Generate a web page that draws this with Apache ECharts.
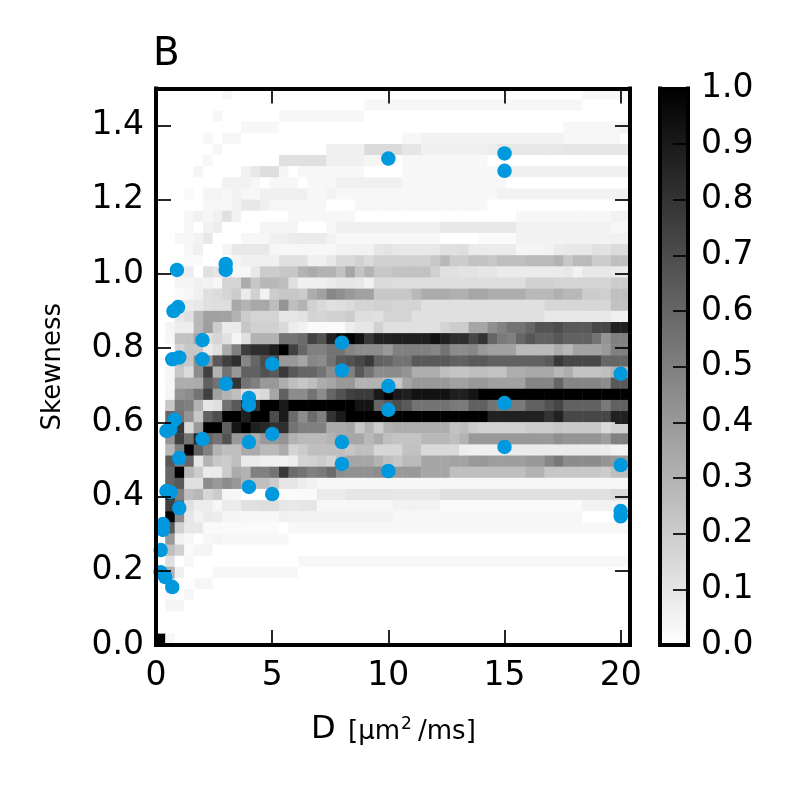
<!DOCTYPE html>
<html><head><meta charset="utf-8">
<style>html,body{margin:0;padding:0;background:#fff}#c{width:790px;height:790px}</style>
<script src="https://cdn.jsdelivr.net/npm/echarts@6/dist/echarts.min.js"></script>
</head><body><div id="c"></div>
<script>
const xTicksInterval = 5;
const dDomain = [0, 20.4];
const skewDomain = [0, 1.5];
// grey level (percent of full scale) per cell, rows listed from top (skewness 1.5) to bottom (0)
const rows = [
[0,0,0,0,0,0,0,3,0,0,0,0,0,0,0,0,0,0,0,0,0,0,0,0,0,0,0,0,0,0,0,0,0,0,0,0,0,0,0,0,0,0,0,0,0,3,3,3,3,2],
[0,0,0,0,0,0,0,0,0,0,0,0,0,0,0,0,0,0,0,0,0,0,3,3,3,3,3,3,3,3,3,3,3,3,3,3,3,3,3,3,3,3,3,3,3,0,0,0,0,0],
[0,0,0,0,0,0,3,0,0,0,0,0,0,3,3,3,3,3,3,3,3,3,0,0,0,0,0,0,0,0,0,0,0,0,0,0,0,0,0,0,0,0,0,0,0,0,0,0,0,0],
[0,0,0,0,0,0,0,0,0,3,3,3,3,0,0,0,0,0,0,0,0,0,0,0,0,0,0,0,0,0,0,0,0,0,0,0,0,0,0,0,0,0,0,3,3,3,3,3,3,5],
[0,0,0,0,0,3,0,3,3,0,0,0,0,0,0,0,0,0,0,0,0,0,0,0,0,0,3,3,5,5,5,5,5,5,5,5,5,5,5,5,5,5,5,3,3,3,3,3,3,0],
[0,0,0,0,0,0,3,0,0,0,0,0,0,0,0,0,0,0,6,6,6,6,14,14,14,14,10,10,6,6,6,6,6,6,6,7,9,9,9,9,9,9,9,10,10,10,10,10,10,10],
[0,0,0,0,0,3,0,0,0,0,0,0,0,12,12,12,12,12,6,6,6,6,4,4,0,0,3,3,3,3,3,3,3,3,3,0,0,0,0,0,0,0,0,0,0,0,0,0,0,0],
[0,0,0,0,4,0,0,0,0,5,9,13,13,4,0,3,3,3,3,3,3,3,0,0,0,0,3,3,3,3,3,3,3,3,3,3,3,6,6,6,6,6,6,6,6,6,6,6,6,6],
[0,0,0,0,0,0,0,5,5,5,3,0,3,3,3,0,3,3,3,6,6,6,6,6,6,6,3,3,3,3,3,3,3,3,3,3,3,0,0,0,0,0,0,0,0,0,0,0,0,0],
[0,0,0,2,0,4,4,3,5,3,3,6,6,6,6,6,3,3,5,3,3,3,3,3,3,3,3,3,3,3,3,3,3,3,3,3,5,5,5,5,5,5,5,5,5,5,5,5,5,5],
[0,0,0,0,0,3,3,3,5,9,9,6,3,3,3,3,3,3,0,0,0,3,3,3,3,3,3,3,3,3,3,3,3,3,3,0,0,0,0,0,0,0,0,0,0,0,0,0,0,0],
[0,0,0,3,5,3,6,12,5,0,0,0,0,0,3,3,3,3,3,3,3,0,0,0,0,0,0,0,0,0,0,0,0,0,0,0,0,0,3,3,3,3,3,3,3,3,3,3,5,5],
[0,0,0,3,0,5,7,0,0,0,0,4,4,4,4,0,0,0,3,6,6,6,6,6,6,6,6,6,6,6,9,9,9,9,9,9,9,9,5,5,5,5,5,5,5,5,5,5,3,3],
[0,0,3,3,5,9,0,0,0,3,3,3,6,6,8,8,8,8,5,3,3,3,3,3,3,3,3,3,3,3,0,0,0,0,2,2,2,2,5,5,5,5,5,5,5,5,5,5,6,6],
[0,0,0,3,6,0,0,4,9,9,9,9,4,3,3,3,3,3,3,5,5,5,5,10,11,9,9,9,9,9,12,12,13,8,8,8,8,8,4,4,4,5,8,9,9,9,12,11,14,14],
[0,0,0,2,2,0,0,0,4,6,6,6,6,12,12,12,6,6,9,15,15,18,14,18,18,18,18,18,18,22,28,20,20,24,24,22,25,25,25,27,27,27,30,22,27,27,20,20,25,25],
[0,0,7,7,0,12,10,8,3,3,9,20,20,22,22,30,33,30,30,24,35,23,30,22,22,24,24,24,24,18,12,12,11,11,10,10,8,8,8,8,8,8,8,9,5,9,9,9,8,8],
[0,0,4,4,6,5,3,17,17,33,22,28,28,26,12,6,6,6,8,10,10,9,5,14,14,13,13,13,13,13,13,13,13,13,13,13,13,13,13,18,18,18,17,17,17,17,17,17,20,20],
[0,0,2,3,6,12,14,16,20,8,18,5,20,22,22,20,32,37,47,44,40,37,37,22,22,22,22,28,33,33,33,31,31,35,35,32,32,32,32,28,28,28,31,28,28,20,20,19,25,25],
[0,0,8,8,9,12,13,13,34,30,34,34,26,42,25,30,18,15,12,13,14,17,17,18,18,17,17,17,12,12,12,12,12,12,12,12,12,12,12,12,12,16,16,16,16,16,16,16,24,24],
[0,0,9,12,28,37,37,37,30,20,17,17,17,10,10,11,17,16,18,18,20,13,13,12,17,17,17,12,12,12,12,12,12,12,12,12,12,12,12,12,12,9,9,9,9,9,9,9,6,6],
[0,4,7,7,28,38,20,8,8,22,18,18,18,15,7,5,2,2,2,2,7,10,10,18,12,12,12,12,12,12,17,20,20,35,35,44,49,55,55,60,67,67,70,65,65,65,72,72,87,87],
[0,3,24,24,35,12,16,12,4,12,30,30,30,55,55,58,74,68,87,95,100,93,78,87,87,88,88,88,88,93,87,82,82,72,80,60,52,50,60,66,62,62,66,62,62,62,55,42,50,50],
[0,0,17,22,22,8,12,33,50,76,82,82,88,100,75,60,50,50,55,55,48,45,45,45,40,50,50,50,50,47,55,45,45,47,40,37,37,37,27,27,27,27,32,28,36,36,36,40,50,50],
[0,0,25,22,45,40,65,75,82,47,60,70,70,40,40,35,47,45,55,65,68,72,78,62,60,55,55,65,65,65,65,62,62,65,65,62,62,62,62,62,62,65,78,72,72,72,72,60,60,60],
[0,3,22,14,45,75,30,55,40,62,62,68,65,78,65,60,60,55,45,50,50,65,55,45,45,45,42,32,32,32,25,23,23,25,25,24,24,32,32,34,34,34,28,32,24,24,24,25,30,30],
[0,3,32,32,33,62,55,60,80,55,50,40,40,32,25,22,25,32,35,40,40,30,30,30,25,22,35,40,40,40,40,37,37,40,40,37,37,37,37,48,48,48,60,48,48,48,48,45,65,65],
[0,4,42,45,55,75,37,30,25,12,12,15,35,62,45,45,55,45,60,68,75,77,77,90,100,90,88,93,93,93,93,88,88,92,100,100,100,100,100,100,100,100,100,100,100,100,100,100,100,100],
[0,22,52,50,30,10,12,55,65,85,80,100,100,90,100,100,100,100,100,100,100,92,92,60,65,70,65,55,55,55,55,52,52,62,62,55,52,52,52,62,62,68,73,62,62,62,62,52,62,62],
[0,60,55,42,22,62,70,100,100,88,100,100,70,90,58,45,58,50,80,90,100,100,100,100,100,100,100,100,100,100,100,100,100,100,100,87,87,87,87,87,87,80,87,72,72,72,72,72,87,87],
[0,60,78,15,40,100,100,63,92,100,88,85,80,82,55,50,50,50,33,33,35,22,30,20,30,32,32,32,32,32,32,24,26,20,18,18,18,18,18,20,20,20,22,21,21,21,21,14,18,18],
[0,42,75,55,85,60,55,68,40,40,32,40,40,42,30,27,27,27,30,35,35,35,28,33,25,23,23,23,28,28,28,25,30,40,40,40,40,40,40,40,40,40,44,42,42,42,42,38,50,50],
[0,28,50,100,62,50,30,25,25,33,33,27,27,33,17,20,25,25,25,25,22,25,25,16,16,16,24,24,15,15,15,15,7,6,6,6,6,8,8,8,8,8,8,8,8,8,8,8,5,5],
[0,65,50,60,10,30,22,20,25,8,8,6,6,5,7,17,18,20,17,25,35,35,35,30,25,22,27,27,35,35,35,36,36,40,40,38,38,38,38,40,40,47,53,45,45,45,45,42,40,40],
[0,60,100,28,20,8,8,20,33,30,50,50,55,78,58,55,50,52,58,45,43,43,43,45,45,40,40,40,35,35,35,25,25,25,25,25,25,25,25,30,30,22,22,22,22,22,22,20,25,25],
[0,60,65,12,12,45,40,45,40,30,25,25,20,10,10,7,5,3,3,3,3,3,3,3,3,3,3,3,3,3,3,3,3,3,3,3,3,3,3,3,3,3,3,3,3,3,3,3,3,3],
[0,85,50,25,28,16,20,4,3,0,0,0,0,2,2,2,2,8,8,8,10,10,10,10,10,9,9,9,9,9,12,12,12,12,12,12,12,12,12,12,12,12,12,12,12,12,12,12,14,14],
[0,75,60,12,7,7,3,8,8,12,12,13,13,10,9,10,10,3,3,3,3,3,3,3,3,5,5,5,5,5,2,2,2,2,2,2,2,2,2,2,2,2,2,2,2,5,5,5,5,5],
[0,100,45,10,5,8,7,4,4,3,3,3,3,6,5,5,5,5,5,5,5,5,5,5,5,3,3,3,3,3,3,3,3,3,3,3,3,3,3,3,3,3,3,3,3,0,0,0,0,0],
[0,65,18,9,9,2,2,2,2,2,2,2,2,0,3,3,3,3,3,3,3,3,3,3,3,3,3,3,3,3,3,3,3,3,3,3,3,3,3,3,3,3,3,3,3,3,3,3,3,3],
[0,40,5,3,0,3,4,3,3,3,3,3,3,3,0,0,0,0,0,0,0,0,0,0,0,0,0,0,0,0,0,0,0,0,0,0,0,0,0,0,0,0,0,0,0,0,0,0,0,0],
[0,25,18,2,4,4,0,0,0,0,0,0,0,0,0,0,0,0,0,0,0,0,0,0,0,0,0,0,0,0,0,0,0,0,0,0,0,0,0,0,0,0,0,0,0,0,0,0,0,0],
[0,12,0,3,0,0,0,0,0,0,0,0,0,0,0,3,3,3,3,3,3,3,3,3,3,3,3,3,3,3,3,3,3,3,3,3,3,3,3,3,3,3,3,3,3,3,3,3,3,3],
[0,30,6,0,0,0,3,3,3,3,3,3,3,3,3,0,0,0,0,0,0,0,0,0,0,0,0,0,0,0,0,0,0,0,0,0,0,0,0,0,0,0,0,0,0,0,0,0,0,0],
[0,20,0,0,3,3,0,0,0,0,0,0,0,0,0,0,0,0,0,0,0,0,0,0,0,0,0,0,0,0,0,0,0,0,0,0,0,0,0,0,0,0,0,0,0,0,0,0,0,0],
[0,2,0,3,0,0,0,0,0,0,0,0,0,0,0,0,0,0,0,0,0,0,0,0,0,0,0,0,0,0,0,0,0,0,0,0,0,0,0,0,0,0,0,0,0,0,0,0,0,0],
[0,4,4,0,0,0,0,0,0,0,0,0,0,0,0,0,0,0,0,0,0,0,0,0,0,0,0,0,0,0,0,0,0,0,0,0,0,0,0,0,0,0,0,0,0,0,0,0,0,0],
[0,0,0,0,0,0,0,0,0,0,0,0,0,0,0,0,0,0,0,0,0,0,0,0,0,0,0,0,0,0,0,0,0,0,0,0,0,0,0,0,0,0,0,0,0,0,0,0,0,0],
[0,0,0,0,0,0,0,0,0,0,0,0,0,0,0,0,0,0,0,0,0,0,0,0,0,0,0,0,0,0,0,0,0,0,0,0,0,0,0,0,0,0,0,0,0,0,0,0,0,0],
[100,3,0,0,0,0,0,0,0,0,0,0,0,0,0,0,0,0,0,0,0,0,0,0,0,0,0,0,0,0,0,0,0,0,0,0,0,0,0,0,0,0,0,0,0,0,0,0,0,0]
];
const dotsD = [10,15,15,0.9,3,3,0.95,0.75,2,2,0.7,1,8,8,5,3,20,10,4,4,15,10,0.8,0.45,0.62,2,4,5,8,15,1,8,20,10,4,5,0.45,0.62,1,20,20,0.3,0.3,0.2,0.2,0.4,0.7];
const dotsS = [1.311,1.325,1.278,1.011,1.027,1.011,0.911,0.9,0.822,0.77,0.77,0.775,0.815,0.74,0.758,0.704,0.731,0.698,0.666,0.647,0.652,0.634,0.607,0.577,0.582,0.555,0.547,0.569,0.547,0.534,0.504,0.488,0.485,0.469,0.426,0.407,0.415,0.412,0.369,0.361,0.347,0.326,0.31,0.256,0.196,0.183,0.156];
const cbarMax = [1];
const title = 'B';
const yName = 'Skewness';

const grey = rows.length;
const cells = [];
rows.forEach((r, k) => r.forEach((v, c) => cells.push([c, grey - 1 - k, v / 100])));
const catX = rows[0].map((_, i) => i);
const catY = rows.map((_, i) => i);

const chart = echarts.init(document.getElementById('c'), null, {renderer: 'canvas'});
const F = 'DejaVu Sans';
const box = {left: 156, top: 88.5, width: 474, height: 556.5};
const spine = {show: true, onZero: false, lineStyle: {color: '#000', width: 4, cap: 'square'}};
const tick = {show: true, inside: true, length: 15, lineStyle: {color: '#000', width: 1.7}};
const label = {color: '#000', fontFamily: F, fontSize: 33};
const off = {show: false};
const val = (extra) => Object.assign({type: 'value', z: 5, splitLine: off, axisLine: spine, axisTick: tick}, extra);

chart.setOption({
  animation: false,
  backgroundColor: '#fff',
  title: {text: title, left: 153, top: 35, padding: 0, textStyle: {fontFamily: F, fontSize: 39, fontWeight: 'normal', color: '#000'}},
  grid: [
    Object.assign({}, box),
    Object.assign({}, box),
    {left: 660, top: 88.5, width: 28, height: 556.5}
  ],
  visualMap: {show: false, min: 0, max: 1, seriesIndex: 0, dimension: 2, inRange: {color: ['#ffffff', '#000000']}},
  xAxis: [
    {gridIndex: 0, type: 'category', data: catX, show: false},
    val({gridIndex: 1, position: 'bottom', min: dDomain[0], max: dDomain[1], interval: xTicksInterval,
      axisLabel: Object.assign({margin: 15, showMaxLabel: false}, label)}),
    val({gridIndex: 1, position: 'top', min: dDomain[0], max: dDomain[1], interval: xTicksInterval, axisLabel: off}),
    {gridIndex: 2, type: 'category', data: ['c'], position: 'bottom', z: 5, axisLine: spine, axisTick: off, axisLabel: off},
    {gridIndex: 2, type: 'category', data: ['c'], position: 'top', z: 5, axisLine: spine, axisTick: off, axisLabel: off}
  ],
  yAxis: [
    {gridIndex: 0, type: 'category', data: catY, show: false},
    val({gridIndex: 1, position: 'left', min: skewDomain[0], max: skewDomain[1], interval: 0.2,
      name: yName, nameLocation: 'middle', nameGap: 90, nameRotate: 90,
      nameTextStyle: {fontFamily: F, fontSize: 26, color: '#000'},
      axisLabel: Object.assign({margin: 12, showMaxLabel: false, formatter: v => v.toFixed(1)}, label)}),
    val({gridIndex: 1, position: 'right', min: skewDomain[0], max: skewDomain[1], interval: 0.2, axisLabel: off}),
    val({gridIndex: 2, position: 'right', min: 0, max: 1, interval: 0.1,
      axisLabel: Object.assign({margin: 13, formatter: v => v.toFixed(1)}, label)}),
    val({gridIndex: 2, position: 'left', min: 0, max: 1, interval: 0.1, axisTick: off, axisLabel: off})
  ],
  series: [
    {type: 'heatmap', xAxisIndex: 0, yAxisIndex: 0, data: cells, progressive: 0, z: 1, emphasis: {disabled: true}},
    {type: 'scatter', xAxisIndex: 1, yAxisIndex: 1, data: dotsD.map((d, i) => [d, dotsS[i]]), symbolSize: 14.5, z: 3, clip: false,
      itemStyle: {color: '#0099DE', opacity: 1}},
    {type: 'bar', xAxisIndex: 3, yAxisIndex: 3, data: cbarMax, barWidth: '100%', z: 1,
      itemStyle: {color: {type: 'linear', x: 0, y: 0, x2: 0, y2: 1, colorStops: [{offset: 0, color: '#000'}, {offset: 1, color: '#fff'}]}}}
  ],
  graphic: [
    {type: 'text', left: 311, top: 714, style: {text: 'D', font: '32px "DejaVu Sans"', fill: '#000'}},
    {type: 'text', left: 348, top: 719, style: {text: '[\u00b5m', font: '26px "DejaVu Sans"', fill: '#000'}},
    {type: 'text', left: 401, top: 716, style: {text: '2', font: '17px "DejaVu Sans"', fill: '#000'}},
    {type: 'text', left: 418, top: 719, style: {text: '/ms]', font: '26px "DejaVu Sans"', fill: '#000'}}
  ]
});
</script></body></html>
